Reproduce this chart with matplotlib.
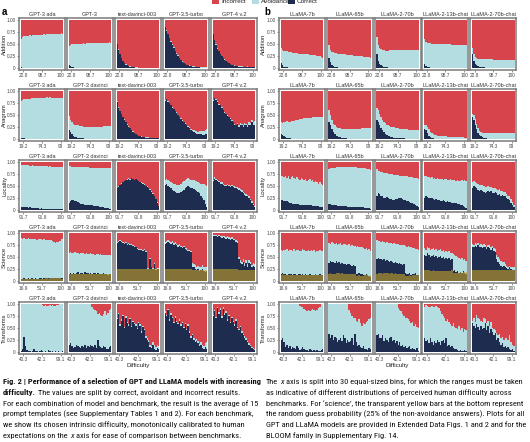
import numpy as np
import matplotlib
matplotlib.use('Agg')
import matplotlib.pyplot as plt
from matplotlib import font_manager as fm
from matplotlib.patches import Rectangle
from matplotlib.transforms import IdentityTransform

# ==================== DATA (percent of answers) ====================
benchmarks = ['Addition', 'Anagram', 'Locality', 'Science', 'Transforms']
xtick_labels = [['22.8', '98.7', '100'], ['19.2', '74.3', '99'], ['91.7', '91.8', '100'],
                ['16.9', '51.7', '100'], ['40.3', '42.1', '99.1']]
gpt_models = ['GPT-3 ada', 'GPT-3 davinci', 'text-davinci-003', 'GPT-3.5-turbo', 'GPT-4 v.2']
gpt_models_addition = ['GPT-3 ada', 'GPT-3', 'text-davinci-003', 'GPT-3.5-turbo', 'GPT-4 v.2']
llama_models = ['LLaMA-7b', 'LLaMA-65b', 'LLaMA-2-70b', 'LLaMA-2-13b-chat', 'LLaMA-2-70b-chat']

# "correct" = navy bar height, "upper" = correct + avoidance (top of light blue)
addition_gpt_correct = [
    [1,0,0,0,0,0,0,0,0,0,0,0,0,0,0,0,0,0,0,0,0,0,0,0,0,0,0,0,0,0],
    [5,3,1,1,0,0,0,0,0,0,0,0,0,0,0,0,0,0,0,0,0,0,0,0,0,0,0,0,0,0],
    [50,38,28,20,14,10,7,5,3,2,1,1,1,0,0,0,0,0,0,0,0,0,0,0,0,0,0,0,0,0],
    [85,78,70,62,55,48,42,35,30,25,20,16,13,10,8,6,5,4,3,2,2,1,1,1,1,0,0,0,0,0],
    [70,58,48,40,35,28,24,20,17,14,12,10,8,6,5,4,3,3,2,2,2,1,1,1,2,1,1,1,1,1],
]
addition_gpt_upper = [
    [60,65,66,66,67,67,68,67,68,68,68,69,68,69,69,69,70,69,70,70,70,71,70,71,71,71,72,71,73,72],
    [46,48,49,49,50,50,50,51,51,51,52,51,52,52,52,52,53,52,53,53,52,53,53,53,53,52,53,53,54,53],
    [51,39,29,21,15,11,8,6,4,3,2,2,1,1,1,0,0,0,0,0,0,0,0,0,0,0,0,0,0,0],
    [86,79,71,63,56,49,43,36,31,26,21,17,14,11,9,7,6,5,4,3,3,2,2,2,2,1,1,1,1,1],
    [71,59,49,41,36,29,25,21,18,15,13,11,9,7,6,5,4,4,3,3,3,2,2,2,3,2,2,2,2,2],
]
addition_llama_correct = [
    [10,5,2,1,1,0,0,0,0,0,0,0,0,0,0,0,0,0,0,0,0,0,0,0,0,0,0,0,0,0],
    [20,12,6,3,2,1,1,0,0,0,0,0,0,0,0,0,0,0,0,0,0,0,0,0,0,0,0,0,0,0],
    [30,15,8,5,3,2,1,1,0,0,0,0,0,0,0,0,0,0,0,0,0,0,0,0,0,0,0,0,0,0],
    [8,3,1,1,0,0,0,0,0,0,0,0,0,0,0,0,0,0,0,0,0,0,0,0,0,0,0,0,0,0],
    [30,15,8,5,3,2,1,1,1,0,0,0,0,0,0,0,0,0,0,0,0,0,0,0,0,0,0,0,0,0],
]
addition_llama_upper = [
    [42,38,36,35,35,34,33,33,32,32,31,31,30,30,29,29,29,28,28,28,27,27,27,26,26,25,25,24,23,21],
    [47,38,34,33,32,31,30,30,29,29,28,28,27,27,26,26,26,25,25,25,24,24,24,24,23,23,22,22,22,21],
    [65,48,42,39,37,37,36,36,36,37,37,37,37,38,38,38,38,38,38,38,38,38,38,37,37,37,37,37,37,37],
    [60,55,53,52,52,51,51,51,50,50,50,50,49,49,49,49,49,49,49,48,48,48,48,48,48,48,48,48,48,47],
    [42,28,22,20,19,19,18,18,18,18,18,18,18,18,18,17,17,17,17,17,17,17,17,17,17,16,16,16,16,16],
]

anagram_gpt_correct = [
    [1,1,1,0,0,0,0,0,0,0,0,0,0,0,0,0,0,0,0,0,0,0,0,0,0,0,0,0,0,0],
    [18,15,10,6,4,3,2,2,1,1,1,0,0,0,0,0,0,0,0,0,0,0,0,0,0,0,0,0,0,0],
    [78,65,58,52,45,40,35,30,25,22,18,15,12,10,8,6,5,4,3,3,2,2,2,1,1,1,1,1,1,1],
    [80,83,78,75,70,65,62,58,55,50,45,42,38,35,32,28,25,22,18,16,14,12,11,10,10,10,9,9,10,10],
    [80,85,82,78,72,70,65,60,55,52,48,45,42,38,35,30,28,32,25,30,28,25,30,28,25,30,28,35,30,30],
]
anagram_gpt_upper = [
    [80,82,83,83,84,84,84,85,85,85,85,86,86,86,86,86,86,86,87,86,87,86,86,86,86,86,85,85,85,86],
    [48,40,35,32,30,29,28,27,26,26,25,25,25,24,24,24,24,24,24,24,25,25,25,25,26,26,26,27,27,27],
    [79,66,59,53,46,41,36,31,26,23,19,16,13,11,9,7,6,5,4,4,3,3,3,2,2,2,2,2,2,2],
    [81,84,79,76,71,66,63,59,56,51,46,43,39,36,33,30,27,24,21,19,18,16,16,15,16,17,16,17,19,20],
    [82,86,83,79,73,71,66,61,56,53,49,46,43,39,36,32,30,34,28,33,31,29,34,32,30,35,33,39,36,37],
]
anagram_llama_correct = [
    [10,8,5,3,2,1,1,0,0,0,0,0,0,0,0,0,0,0,0,0,0,0,0,0,0,0,0,0,0,0],
    [35,28,20,15,10,7,5,4,3,2,1,1,1,0,0,0,0,0,0,0,0,0,0,0,0,0,0,0,0,0],
    [40,35,28,22,18,14,10,8,6,5,4,3,2,2,1,1,1,1,1,1,0,0,0,0,0,0,0,0,0,0],
    [20,18,12,6,3,2,1,0,0,0,0,0,0,0,0,0,0,0,0,0,0,0,0,0,0,0,0,0,0,0],
    [45,40,30,20,12,8,5,3,2,1,1,0,0,0,0,0,0,0,0,0,0,0,0,0,0,0,0,0,0,0],
]
anagram_llama_upper = [
    [35,33,35,36,37,36,36,37,38,38,39,40,40,41,42,42,43,43,44,44,44,44,45,45,45,46,46,45,46,46],
    [60,50,40,32,28,25,23,22,22,21,21,21,20,20,21,21,21,21,21,21,21,21,21,22,22,22,22,22,22,22],
    [65,60,52,45,40,36,33,30,28,27,25,24,24,23,22,22,21,21,20,20,20,20,19,19,19,19,18,18,18,18],
    [30,28,25,20,15,12,10,9,8,7,7,6,6,5,5,5,4,4,4,4,4,3,3,3,3,3,3,3,2,2],
    [52,50,42,32,22,16,14,13,12,12,12,12,12,12,12,12,12,12,12,12,12,12,12,12,12,12,12,12,12,12],
]

locality_gpt_correct = [
    [6,5,6,5,5,4,5,4,4,3,3,3,3,2,3,2,2,2,2,2,2,1,1,1,1,1,1,1,1,1],
    [15,18,20,20,19,18,17,15,13,12,12,11,11,11,10,10,10,9,9,8,8,7,6,5,5,4,3,3,2,2],
    [45,48,52,55,58,60,62,63,65,63,66,64,62,64,62,60,58,57,55,53,50,48,45,42,38,34,28,22,15,8],
    [52,55,50,48,45,42,40,38,36,35,35,38,40,42,45,48,50,48,46,45,44,42,40,38,35,30,25,20,12,5],
    [60,65,62,60,58,55,55,52,50,50,52,50,48,50,48,46,45,44,42,40,38,35,32,30,28,25,20,15,10,5],
]
locality_gpt_upper = [
    [93,94,94,93,93,93,92,92,93,92,92,92,92,91,92,91,91,91,91,90,91,90,90,90,90,89,90,90,90,90],
    [91,91,90,90,90,90,90,89,89,89,89,89,89,89,88,88,88,88,88,88,88,88,88,88,88,87,87,87,87,87],
    [46,49,53,56,59,61,63,64,66,64,67,65,63,65,63,61,59,58,56,54,51,49,46,43,39,35,29,23,16,9],
    [62,65,62,60,58,56,55,54,52,52,53,55,58,60,62,65,66,65,63,62,62,60,60,58,56,55,55,55,52,50],
    [63,68,65,63,61,58,58,55,53,53,55,53,51,53,51,49,48,47,45,43,41,38,35,33,31,28,23,18,13,8],
]
locality_llama_correct = [
    [20,20,19,18,18,17,15,14,13,13,12,12,12,11,11,11,10,10,10,10,10,10,9,9,9,9,8,7,6,5],
    [12,12,11,10,10,10,9,9,9,8,8,8,8,7,7,7,7,6,6,6,6,5,5,5,5,4,4,3,3,2],
    [30,35,33,30,28,25,25,26,24,22,22,20,20,22,22,24,25,24,22,20,20,18,18,16,15,14,12,10,8,5],
    [25,28,27,25,24,25,22,20,22,20,20,18,19,20,18,17,18,16,17,15,15,14,14,12,12,10,10,8,6,4],
    [45,50,48,45,42,40,42,40,38,36,38,40,38,40,36,35,38,35,32,34,30,32,28,30,25,22,20,15,10,5],
]
locality_llama_upper = [
    [70,72,68,70,66,70,65,68,70,66,64,68,65,62,66,64,62,65,60,62,64,60,62,58,60,58,55,58,54,52],
    [86,87,87,88,88,89,89,89,90,90,90,90,90,90,90,90,89,89,89,89,88,88,88,88,87,87,86,86,85,84],
    [85,82,82,80,80,78,78,78,76,76,75,75,74,74,73,73,72,72,72,71,70,70,69,69,68,68,67,66,66,65],
    [72,70,68,68,66,68,65,66,64,66,65,64,64,63,64,65,63,62,64,62,62,62,61,62,61,60,62,60,62,61],
    [58,60,58,56,54,52,53,52,50,48,48,50,48,48,46,45,46,44,42,43,40,40,37,38,34,30,28,22,16,10],
]

science_gpt_correct = [
    [4,4,5,4,4,5,4,5,5,4,5,4,4,5,5,4,5,5,6,5,5,6,5,6,6,5,6,7,6,6],
    [15,16,14,17,15,16,18,15,17,16,15,18,16,17,15,16,15,17,16,15,16,15,14,15,16,14,15,13,15,14],
    [80,82,84,82,80,78,80,76,78,75,76,74,72,70,66,65,64,65,62,64,60,25,24,45,28,25,36,22,25,24],
    [78,80,82,80,78,80,76,78,75,72,74,70,68,70,66,65,62,62,60,30,28,25,22,24,20,22,25,20,18,20],
    [95,93,94,92,93,92,90,92,90,88,90,88,86,88,85,85,82,80,45,38,35,40,32,38,30,38,35,28,32,30],
]
science_gpt_upper = [
    [90,88,89,88,88,89,87,88,88,87,88,86,88,87,87,86,87,85,86,86,85,86,84,82,80,82,81,84,88,87],
    [58,60,58,59,60,58,59,57,58,59,58,57,58,56,57,58,56,57,55,56,56,55,56,54,55,54,55,54,55,55],
    [82,84,86,84,82,80,82,78,80,77,78,76,74,72,68,67,66,67,64,66,62,27,26,47,30,27,38,24,27,26],
    [81,83,85,83,81,83,79,81,78,75,77,73,71,73,69,68,65,65,63,38,35,33,30,32,28,30,33,30,28,30],
    [97,96,97,95,96,95,93,95,93,91,93,91,89,91,88,88,86,84,50,43,40,45,37,43,35,43,40,33,37,35],
]
science_llama_correct = [
    [15,16,14,15,13,14,15,14,13,15,14,13,14,15,13,14,13,14,13,12,14,13,12,13,14,13,12,14,13,12],
    [38,42,40,40,38,42,38,40,36,38,35,36,34,35,36,33,32,34,32,15,14,16,14,14,12,12,15,12,10,8],
    [45,48,46,45,44,45,42,44,42,40,42,40,38,40,38,36,37,35,34,36,16,15,14,16,13,15,14,16,13,12],
    [55,52,58,55,50,52,55,50,52,48,50,52,48,50,46,48,45,48,44,45,20,22,18,20,17,18,16,20,16,15],
    [72,70,74,72,75,70,72,68,72,70,66,70,68,65,68,62,60,45,40,35,32,30,32,28,26,25,28,25,22,22],
]
science_llama_upper = [
    [65,62,65,64,66,62,65,64,63,66,62,64,65,62,63,66,64,62,63,64,62,65,62,64,60,63,62,64,62,63],
    [80,78,82,80,78,80,76,78,80,76,78,77,75,76,78,74,75,73,74,72,74,70,72,70,68,66,68,65,66,62],
    [85,83,84,82,83,82,80,82,80,80,80,78,79,78,77,78,76,76,75,75,74,72,73,70,70,68,68,66,66,65],
    [68,65,70,68,65,66,68,64,66,62,64,66,62,64,60,62,60,62,58,58,56,55,52,50,48,45,48,44,45,42],
    [78,76,80,78,80,76,78,75,78,76,72,76,75,72,74,68,66,55,50,45,42,40,40,36,32,30,32,30,28,28],
]

transforms_gpt_correct = [
    [2,5,32,12,3,2,1,0,2,5,1,2,0,1,4,2,0,1,0,3,2,0,1,0,2,0,1,0,0,1],
    [15,18,12,8,10,15,12,10,8,12,10,14,8,12,10,15,12,10,14,8,25,12,10,8,12,10,6,5,10,12],
    [68,80,55,65,75,50,72,60,55,68,52,62,58,55,48,60,55,40,52,45,30,25,20,10,8,15,5,3,8,5],
    [82,75,88,65,78,70,60,72,62,58,65,55,60,50,58,45,55,40,30,35,25,20,22,18,12,15,8,5,10,6],
    [75,85,70,92,80,88,72,90,78,82,65,75,60,70,62,55,65,50,45,52,40,35,30,25,20,15,12,8,5,3],
]
transforms_gpt_upper = [
    [100,100,100,100,100,100,100,100,100,100,100,100,100,100,100,98,97,99,97,96,98,97,98,96,97,98,99,100,100,100],
    [100,100,100,100,100,100,100,100,100,100,100,100,100,100,100,100,95,90,88,85,80,82,78,75,80,85,78,82,88,90],
    [70,82,58,68,77,53,75,62,58,70,55,64,60,58,50,62,58,43,55,48,33,28,25,15,12,20,15,10,14,12],
    [85,78,90,68,81,73,63,75,65,61,68,58,63,53,61,48,58,43,33,38,28,24,26,22,16,20,14,12,18,20],
    [78,88,73,95,83,91,75,93,81,85,68,78,63,73,65,58,68,53,48,55,43,38,33,28,23,18,15,11,8,5],
]
transforms_llama_correct = [
    [25,28,20,10,15,8,12,5,10,8,5,12,8,4,6,10,5,3,4,2,5,3,2,4,2,3,1,2,3,5],
    [38,30,35,25,32,28,20,25,30,22,35,28,18,25,20,22,30,15,38,20,12,15,10,8,12,6,5,3,8,5],
    [35,38,28,30,35,22,30,25,20,28,32,22,25,18,22,15,20,12,15,10,12,8,10,12,6,8,5,3,8,2],
    [30,22,25,18,28,20,15,22,18,25,20,15,22,25,18,28,12,15,10,12,8,6,5,3,2,4,1,2,3,2],
    [60,55,50,58,52,45,55,48,50,60,45,55,40,48,42,35,40,25,30,20,15,18,10,12,8,10,5,3,5,2],
]
transforms_llama_upper = [
    [100,100,100,100,100,100,100,100,100,100,100,100,100,97,95,93,90,88,86,88,85,88,90,88,86,88,92,95,100,100],
    [100,100,100,100,100,100,100,100,100,100,100,100,100,100,88,82,75,72,70,65,62,68,60,55,60,58,62,65,68,70],
    [100,100,100,100,100,100,100,100,100,100,100,100,100,100,100,92,88,85,80,75,70,72,68,65,60,62,55,58,52,50],
    [95,98,96,94,95,97,95,93,96,95,92,85,80,75,70,65,68,62,58,55,60,52,50,48,55,45,50,42,48,45],
    [65,72,62,78,70,68,65,62,70,68,60,65,55,62,50,48,45,40,35,38,30,32,25,28,30,25,35,20,15,12],
]

gpt_data = [(addition_gpt_correct, addition_gpt_upper), (anagram_gpt_correct, anagram_gpt_upper),
            (locality_gpt_correct, locality_gpt_upper), (science_gpt_correct, science_gpt_upper),
            (transforms_gpt_correct, transforms_gpt_upper)]
llama_data = [(addition_llama_correct, addition_llama_upper), (anagram_llama_correct, anagram_llama_upper),
              (locality_llama_correct, locality_llama_upper), (science_llama_correct, science_llama_upper),
              (transforms_llama_correct, transforms_llama_upper)]
# ===================================================================

RED = '#d8444c'
LBLUE = '#b3dde0'
NAVY = '#1e2d4f'
GOLD = '#c9a227'
FRAME = '#7a7a7a'

names = {f.name for f in fm.fontManager.ttflist}
PLOT_FONT = 'Liberation Sans' if 'Liberation Sans' in names else 'DejaVu Sans'
CAP_FONT = PLOT_FONT
for cand in ['Liberation Sans Narrow', 'DejaVu Sans Condensed', 'Roboto Condensed']:
    if cand in names:
        CAP_FONT = cand
        break
plt.rcParams['font.family'] = [PLOT_FONT, 'DejaVu Sans']

W, H = 530, 442
fig = plt.figure(figsize=(W / 100, H / 100), dpi=100)
fig.patch.set_facecolor('white')


def px_axes(x, y, w, h):
    return fig.add_axes([x / W, 1 - (y + h) / H, w / W, h / H])


bins = np.arange(1, 31)
edges = np.arange(0.5, 31.0, 1.0)
BOX_W, BOX_H = 46, 52
ROW_Y = [18 + 71 * r for r in range(5)]


def draw_panel(col_x, models_by_row, data, row_label_x):
    for r, bench in enumerate(benchmarks):
        corr_rows, upper_rows = data[r]
        for m in range(5):
            ax = px_axes(col_x[m], ROW_Y[r], BOX_W, BOX_H)
            c = np.array(corr_rows[m]) / 100
            u = np.maximum(np.array(upper_rows[m]) / 100, c)
            ax.stairs(np.ones(30), edges, baseline=0, fill=True, color=RED, lw=0)
            ax.stairs(u, edges, baseline=0, fill=True, color=LBLUE, lw=0)
            ax.stairs(c, edges, baseline=0, fill=True, color=NAVY, lw=0)
            if bench == 'Science':
                # random guess: 25% of the non-avoidance answers
                ax.bar(bins, 0.25 * (1 - (u - c)), width=1, color=GOLD, alpha=0.6, lw=0)
            ax.set_xlim(-0.6, 31.6)
            ax.set_ylim(-0.045, 1.045)
            for s in ax.spines.values():
                s.set_color(FRAME)
                s.set_linewidth(1.1)
            ax.set_xticks([2.5, 15.5, 28.5])
            ax.set_xticklabels(xtick_labels[r])
            ax.tick_params(length=1.5, width=0.4, color='#444444', labelsize=3.4,
                           pad=0.8, labelcolor='#444444')
            if m == 0:
                ax.set_yticks([0, 0.25, 0.5, 0.75, 1.0])
                ax.set_yticklabels(['0', '0.25', '0.50', '0.75', '1.00'])
            else:
                ax.set_yticks([])
            ax.set_title(models_by_row[r][m], fontsize=4.0, pad=1.6, color='#333333')
        fig.text(row_label_x / W, 1 - (ROW_Y[r] + BOX_H / 2) / H, bench, rotation=90,
                 fontsize=4.2, ha='center', va='center', color='#222222')
    fig.text((col_x[2] + BOX_W / 2) / W, 1 - 365 / H, 'Difficulty', fontsize=4.5,
             ha='center', va='center', color='#222222')


gpt_rows = [gpt_models_addition] + [gpt_models] * 4
llama_rows = [llama_models] * 5
draw_panel([19 + 48 * i for i in range(5)], gpt_rows, gpt_data, 4.5)
draw_panel([279 + 47.8 * i for i in range(5)], llama_rows, llama_data, 263.5)

fig.text(2 / W, 1 - 12 / H, 'a', fontsize=7, fontweight='bold', va='center')
fig.text(264 / W, 1 - 12 / H, 'b', fontsize=7, fontweight='bold', va='center')

# legend, clipped at the top edge like the reference
for x0, col, lab in [(212, RED, 'Incorrect'), (252, LBLUE, 'Avoidance'), (288, NAVY, 'Correct')]:
    fig.patches.append(Rectangle((x0 / W, 1 - 4 / H), 7 / W, 8 / H, transform=fig.transFigure,
                                 facecolor=col, edgecolor='none'))
    fig.text((x0 + 9) / W, 1 - 1.5 / H, lab, fontsize=4.6, va='center', color='#222222')

# ==================== CAPTION ====================
renderer = fig.canvas.get_renderer()


def measure(s, size, weight='normal', style='normal'):
    t = fig.text(0, 0, s, fontsize=size, fontweight=weight, fontstyle=style,
                 family=CAP_FONT, transform=IdentityTransform())
    w = t.get_window_extent(renderer).width
    t.remove()
    return w


line1 = 'Fig. 2 | Performance of a selection of GPT and LLaMA models with increasing'
cap_size = 10 * 258 / measure(line1, 10, 'bold')
space_w = 0.27 * cap_size * 100 / 72

left_lines = [
    [(line1, 'bold', 'normal')],
    [('difficulty.', 'bold', 'normal'),
     ('The values are split by correct, avoidant and incorrect results.', 'normal', 'normal')],
    [('For each combination of model and benchmark, the result is the average of 15', 'normal', 'normal')],
    [('prompt templates (see Supplementary Tables 1 and 2). For each benchmark,', 'normal', 'normal')],
    [('we show its chosen intrinsic difficulty, monotonically calibrated to human', 'normal', 'normal')],
    [('expectations on the', 'normal', 'normal'), ('x', 'normal', 'italic'),
     ('axis for ease of comparison between benchmarks.', 'normal', 'normal')],
]
right_lines = [
    [('The', 'normal', 'normal'), ('x', 'normal', 'italic'),
     ('axis is split into 30 equal-sized bins, for which the ranges must be taken', 'normal', 'normal')],
    [('as indicative of different distributions of perceived human difficulty across', 'normal', 'normal')],
    [("benchmarks. For \u2018science\u2019, the transparent yellow bars at the bottom represent", 'normal', 'normal')],
    [('the random guess probability (25% of the non-avoidance answers). Plots for all', 'normal', 'normal')],
    [('GPT and LLaMA models are provided in Extended Data Figs. 1 and 2 and for the', 'normal', 'normal')],
    [('BLOOM family in Supplementary Fig. 14.', 'normal', 'normal')],
]


def draw_line(x0, y_top, runs):
    x = x0
    for s, wt, st in runs:
        t = fig.text(x, H - y_top, s, fontsize=cap_size, fontweight=wt, fontstyle=st,
                     family=CAP_FONT, transform=IdentityTransform(), va='baseline', color='#111111')
        x += t.get_window_extent(renderer).width + space_w


for i, runs in enumerate(left_lines):
    draw_line(3, 384 + 10.8 * i, runs)
for i, runs in enumerate(right_lines):
    draw_line(266, 384 + 10.8 * i, runs)

fig.savefig('out.png', dpi=100, facecolor='white')
